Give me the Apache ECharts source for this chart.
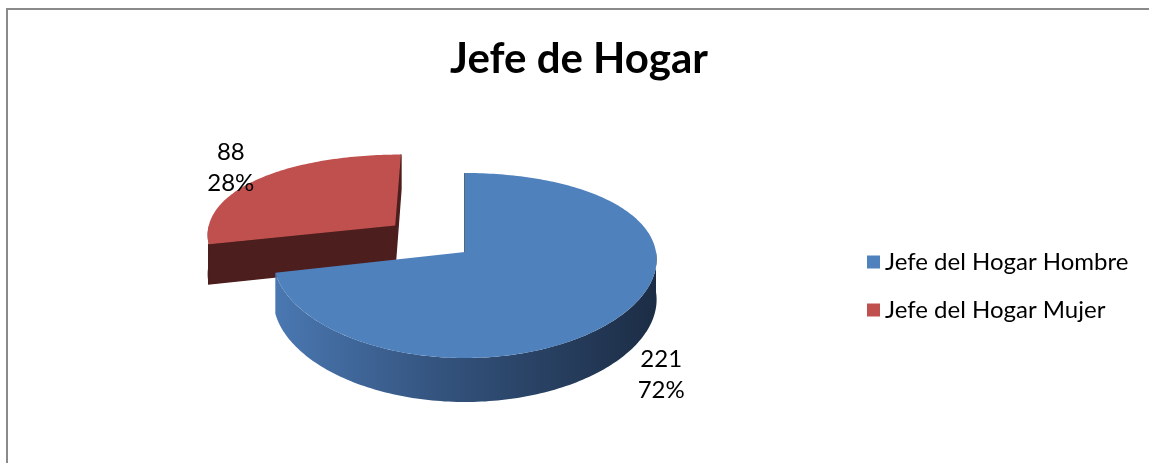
<!DOCTYPE html>
<html>
<head>
<meta charset="utf-8">
<script src="https://cdn.jsdelivr.net/npm/echarts@6/dist/echarts.min.js"></script>
<style>
  html, body { margin: 0; padding: 0; background: #fff; }
  #main { width: 1149px; height: 463px; }
</style>
</head>
<body>
<div id="main"></div>
<script>
// data
var categories = ['Jefe del Hogar Hombre', 'Jefe del Hogar Mujer'];
var counts = [221, 88];

// styles
var topColors = ['#4F81BD', '#C0504D'];
var sideColors = ['#1F3350', '#4D1E1E'];
var explodeBy = [0, 0.48];
var FONT = 'Lato, "Open Sans", sans-serif';

// 3d pie layout (tilted disc with a bit of perspective)
var CX = 465, CY = 252, RX = 191, AY = 92.5, BY = 13.5, DEPTH = 40;

var total = counts.reduce(function (a, b) { return a + b; }, 0);

function project(u, v, z) {
  var s = 1 + 0.08 * v;
  return [CX + RX * u * s, CY + AY * v + BY * v * v + z * (DEPTH + 4 * v)];
}

function arcPts(ou, ov, from, to, z) {
  var pts = [];
  var n = Math.max(2, Math.ceil((to - from) / 0.02));
  for (var k = 0; k <= n; k++) {
    var t = from + (to - from) * k / n;
    pts.push(project(ou + Math.sin(t), ov - Math.cos(t), z));
  }
  return pts;
}

function renderSlice(params, api) {
  var idx = api.value(1);
  var val = api.value(0);
  var before = 0;
  for (var i = 0; i < idx; i++) before += counts[i];
  var a0 = 2 * Math.PI * before / total;
  var a1 = a0 + 2 * Math.PI * val / total;
  var mid = (a0 + a1) / 2;
  var ou = explodeBy[idx] * Math.sin(mid);
  var ov = -explodeBy[idx] * Math.cos(mid);
  var c0 = project(ou, ov, 0), c1 = project(ou, ov, 1);
  var children = [];
  var side = sideColors[idx];

  // radial cut faces
  [[a0, a0 - Math.PI / 2], [a1, a1 + Math.PI / 2]].forEach(function (f) {
    if (Math.cos(f[1]) < 0.02) {
      var o0 = project(ou + Math.sin(f[0]), ov - Math.cos(f[0]), 0);
      var o1 = project(ou + Math.sin(f[0]), ov - Math.cos(f[0]), 1);
      children.push({
        type: 'polygon',
        shape: { points: [c0, o0, o1, c1] },
        style: { fill: side, stroke: side, lineWidth: 1.5 }
      });
    }
  });

  // outer wall, front half only
  var w0 = Math.max(a0, Math.PI / 2), w1 = Math.min(a1, 3 * Math.PI / 2);
  if (w1 > w0) {
    var topArc = arcPts(ou, ov, w0, w1, 0);
    var botArc = arcPts(ou, ov, w0, w1, 1).reverse();
    var fill = idx === 0
      ? new echarts.graphic.LinearGradient(CX - RX, 0, CX + RX, 0, [
          { offset: 0, color: '#4A78B2' },
          { offset: 0.45, color: '#33527C' },
          { offset: 1, color: '#1C2D45' }
        ], true)
      : side;
    children.push({
      type: 'polygon',
      shape: { points: topArc.concat(botArc) },
      style: { fill: fill }
    });
  }

  // top face
  children.push({
    type: 'polygon',
    shape: { points: [c0].concat(arcPts(ou, ov, a0, a1, 0)) },
    style: { fill: topColors[idx] }
  });

  // value / percent label
  var lu = ou + 1.24 * Math.sin(mid), lv = ov - 1.24 * Math.cos(mid);
  var lp = project(lu, lv, lv > 0 ? 1 : 0);
  children.push({
    type: 'text',
    x: lp[0], y: lp[1],
    style: {
      text: val + '\n' + Math.round(val / total * 100) + '%',
      fontSize: 24, fontFamily: FONT, fill: '#000',
      align: 'center', verticalAlign: 'middle', lineHeight: 31
    }
  });

  return { type: 'group', children: children };
}

// back slice first so the front one covers it
var order = [1, 0];
var series = order.map(function (i) {
  return {
    type: 'custom',
    name: categories[i],
    coordinateSystem: 'none',
    itemStyle: { color: topColors[i] },
    renderItem: renderSlice,
    data: [[counts[i], i]]
  };
});

var chart = echarts.init(document.getElementById('main'));
chart.setOption({
  animation: false,
  title: {
    text: 'Jefe de Hogar',
    left: 574, top: 33,
    textAlign: 'center',
    textStyle: { fontSize: 42, fontWeight: 'bold', fontFamily: FONT, color: '#000' }
  },
  legend: {
    data: categories,
    orient: 'vertical',
    left: 862, top: 245,
    icon: 'rect',
    itemWidth: 13, itemHeight: 13,
    itemGap: 24,
    textStyle: { fontSize: 24, fontFamily: FONT, color: '#000', lineHeight: 24 }
  },
  graphic: [{
    type: 'rect',
    shape: { x: 7, y: 9, width: 1300, height: 600 },
    style: { fill: null, stroke: '#8A8A8A', lineWidth: 2 },
    silent: true
  }],
  series: series
});
</script>
</body>
</html>
